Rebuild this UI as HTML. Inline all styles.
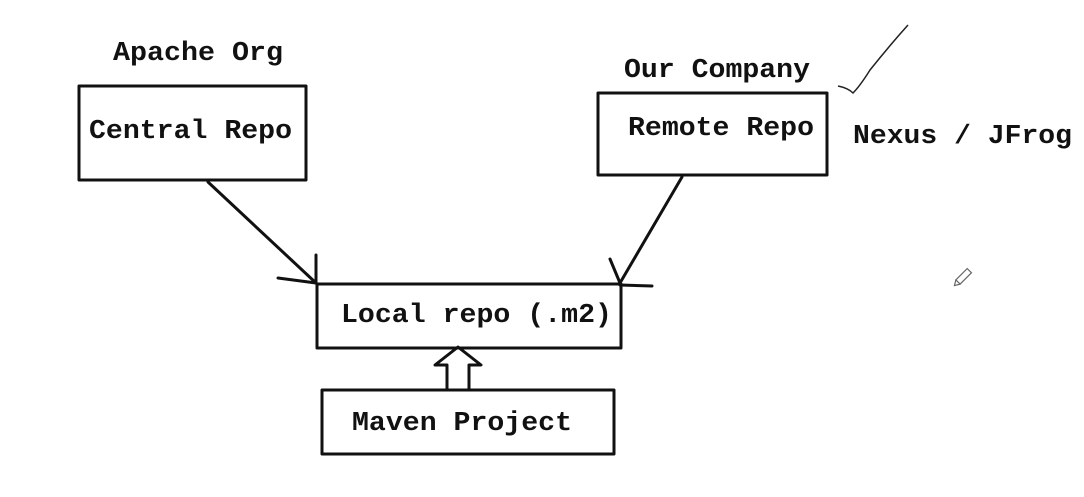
<!DOCTYPE html>
<html><head><meta charset="utf-8"><style>
html,body{margin:0;padding:0;background:#fff;width:1084px;height:497px;overflow:hidden}
text{font-family:"Liberation Mono","DejaVu Sans Mono",monospace;font-weight:bold;fill:#111;font-size:27px}
</style></head><body>
<svg width="1084" height="497" viewBox="0 0 1084 497" xmlns="http://www.w3.org/2000/svg">
<g fill="none" stroke="#111" stroke-width="3" stroke-linecap="round" stroke-linejoin="round">
<rect x="79" y="86" width="227" height="94"/>
<rect x="598" y="93" width="229" height="82"/>
<rect x="317" y="284" width="304" height="64"/>
<rect x="322" y="390" width="292" height="64"/>
<line x1="208" y1="182" x2="316" y2="283"/>
<line x1="316" y1="255" x2="316" y2="283"/>
<line x1="278" y1="278" x2="316" y2="283"/>
<line x1="682" y1="177" x2="620" y2="283"/>
<line x1="610" y1="259" x2="620" y2="283"/>
<line x1="620" y1="285" x2="652" y2="286"/>
<path d="M447 390 V365 H435 L458 347 L481 365 H469 V390"/>
</g>
<path d="M838 86 Q848 88 853 93 Q860 86 870 70 Q890 45 908 25" fill="none" stroke="#222" stroke-width="1.5"/>
<g transform="translate(958,282) rotate(-45)" fill="none" stroke="#666" stroke-width="1.2">
<rect x="0" y="-3" width="16" height="6"/><path d="M0 -3 L-5 0 L0 3"/>
</g>
<text x="113" y="60" textLength="170" lengthAdjust="spacingAndGlyphs">Apache Org</text>
<text x="89" y="138" textLength="203" lengthAdjust="spacingAndGlyphs">Central Repo</text>
<text x="624" y="77" textLength="186" lengthAdjust="spacingAndGlyphs">Our Company</text>
<text x="628" y="135" textLength="186" lengthAdjust="spacingAndGlyphs">Remote Repo</text>
<text x="853" y="143" textLength="219" lengthAdjust="spacingAndGlyphs">Nexus / JFrog</text>
<text x="341" y="322" textLength="271" lengthAdjust="spacingAndGlyphs">Local repo (.m2)</text>
<text x="352" y="430" textLength="220" lengthAdjust="spacingAndGlyphs">Maven Project</text>
</svg>
</body></html>
